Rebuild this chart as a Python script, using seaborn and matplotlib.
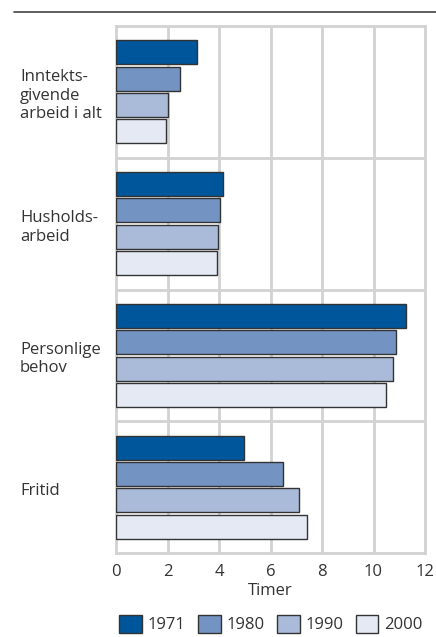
import seaborn as sns
import numpy as np
import pandas as pd
from matplotlib import pyplot as plt
from matplotlib.patches import Patch
from matplotlib.lines import Line2D


## DATA

kategorier = ['Inntekts-\ngivende\narbeid i alt', 'Husholds-\narbeid', 'Personlige\nbehov', 'Fritid']
aar = ['1971', '1980', '1990', '2000']
timer_1971 = [3.13, 4.17, 11.25, 4.98]
timer_1980 = [2.49, 4.05, 10.86, 6.50]
timer_1990 = [2.03, 3.95, 10.77, 7.10]
timer_2000 = [1.94, 3.93, 10.47, 7.43]
farger = ['#00569a', '#7393c3', '#a9bbd9', '#e4e9f4']
xticks = [0, 2, 4, 6, 8, 10, 12]

serier = [timer_1971, timer_1980, timer_1990, timer_2000]
rows = []
for a, verdier in zip(aar, serier):
    for k, v in zip(kategorier, verdier):
        rows.append({'Kategori': k, 'År': a, 'Timer': v})
df = pd.DataFrame(rows)


## FIGUR

sns.set_style('white')
plt.rcParams['font.family'] = ['Open Sans', 'DejaVu Sans']
grid_col = '#d2d2d2'
txt_col = '#333333'

fig = plt.figure(figsize=(4.36, 6.37), dpi=100)
ax = fig.add_axes([116 / 436, 1 - 553 / 637, 309 / 436, 527 / 637])

sns.barplot(data=df, x='Timer', y='Kategori', hue='År', orient='h',
            palette=farger, saturation=1, gap=0.09, width=0.8,
            edgecolor='#333333', linewidth=1.0, ax=ax, zorder=3)
ax.get_legend().remove()

ax.set_xlim(0, 12)
ax.set_ylim(3.5, -0.5)
ax.set_xticks(xticks)
ax.set_xticklabels([str(t) for t in xticks], fontsize=12, color=txt_col)
ax.tick_params(axis='x', length=0, pad=8)
ax.tick_params(axis='y', length=0)
ax.set_xlabel('Timer', fontsize=12, color=txt_col, labelpad=2)
ax.set_ylabel('')
ax.set_yticklabels([])

# rutenett
for x in xticks[1:-1]:
    ax.axvline(x, color=grid_col, lw=2, zorder=1)
for y in [0.5, 1.5, 2.5]:
    ax.axhline(y, color=grid_col, lw=2, zorder=1)
for s in ax.spines.values():
    s.set_color(grid_col)
    s.set_linewidth(2)
    s.set_zorder(2)

# kategorietiketter venstrejustert
for i, k in enumerate(kategorier):
    ax.text(20 / 436, ax.transData.transform((0, i))[1] / fig.bbox.height - 0.006, k,
            transform=fig.transFigure, ha='left', va='center',
            fontsize=12, color=txt_col, linespacing=1.2)

# linje øverst
fig.add_artist(Line2D([14 / 436, 1], [1 - 12 / 637, 1 - 12 / 637],
                      transform=fig.transFigure, color='#444444', lw=1.2))

## LEGEND

handles = [Patch(facecolor=c, edgecolor='#333333', linewidth=1.0) for c in farger]
fig.legend(handles, aar, loc='center', bbox_to_anchor=(271 / 436, 1 - 624 / 637),
           ncol=4, frameon=False, fontsize=12, handlelength=1.35, handleheight=1.35,
           handletextpad=0.35, columnspacing=0.75, borderaxespad=0, labelcolor=txt_col)

plt.savefig('out.png', dpi=100)
